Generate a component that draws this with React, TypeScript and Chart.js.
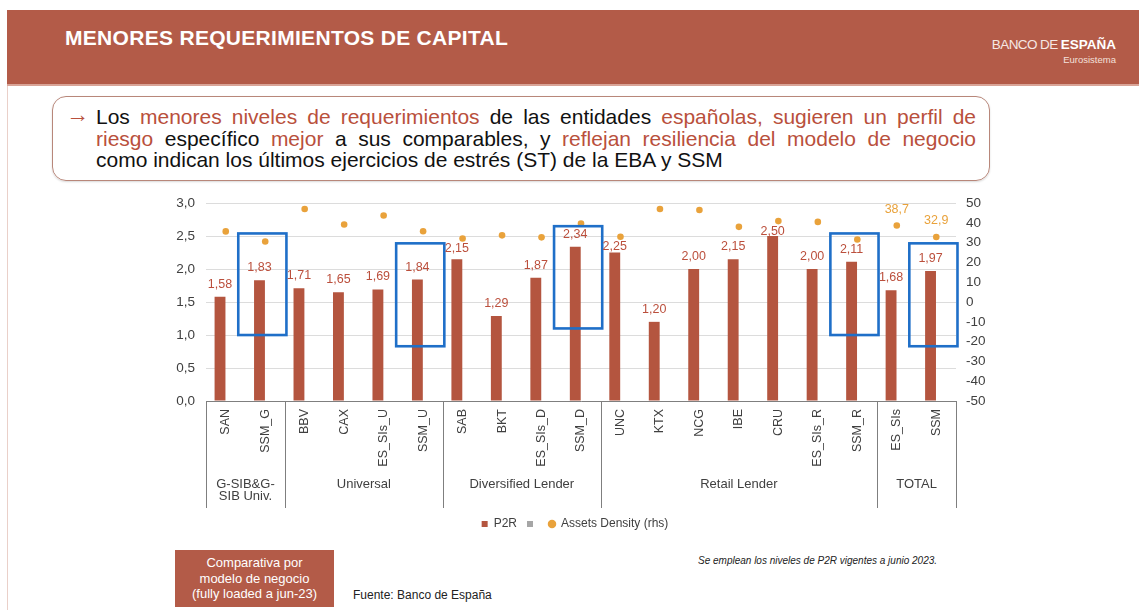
import React, { useEffect, useRef } from "react";
import { Chart, registerables } from "chart.js";

Chart.register(...registerables);

// ---------- data ----------
const categories = ["SAN", "SSM_G", "BBV", "CAX", "ES_SIs_U", "SSM_U", "SAB", "BKT", "ES_SIs_D", "SSM_D", "UNC", "KTX", "NCG", "IBE", "CRU", "ES_SIs_R", "SSM_R", "ES_SIs", "SSM"];
const p2r = [1.58, 1.83, 1.71, 1.65, 1.69, 1.84, 2.15, 1.29, 1.87, 2.34, 2.25, 1.2, 2.0, 2.15, 2.5, 2.0, 2.11, 1.68, 1.97];
const assetsDensity = [35.7, 30.6, 47.0, 39.2, 43.7, 35.8, 32.1, 33.7, 32.7, 39.7, 33.0, 47.0, 46.5, 38.0, 40.9, 40.5, 31.6, 38.7, 32.9];
const labeledDensity = ["ES_SIs", "SSM"];
const groupLabels = [["G-SIB&G-", "SIB Univ."], ["Universal"], ["Diversified Lender"], ["Retail Lender"], ["TOTAL"]];
const groupSizes = [2, 4, 4, 7, 2];
const highlighted = ["SSM_G", "SSM_U", "SSM_D", "SSM_R", "SSM"];
const highlightLow = [1.0, 0.83, 1.1, 1.0, 0.83];
const highlightHigh = [2.54, 2.39, 2.65, 2.54, 2.39];
const seriesNames = ["P2R", "", "Assets Density (rhs)"];

// ---------- styles ----------
const FONT = "'Liberation Sans', Arial, Helvetica, sans-serif";
const BRICK = "#b35b48";
const BAR = "#b4553f";
const LABEL_RED = "#bb4f3c";
const ORANGE = "#e9a23b";
const BLUE = "#1f6fc8";
const AXIS_TEXT = "#404040";

const fmt2 = (v: number) => v.toFixed(2).replace(".", ",");
const fmt1 = (v: number) => v.toFixed(1).replace(".", ",");

const overlayPlugin = {
  id: "overlay",
  afterDatasetsDraw(chart: any) {
    const ctx = chart.ctx;
    const xs = chart.scales.x;
    const ys = chart.scales.y;
    const bars = chart.getDatasetMeta(0).data;
    const pts = chart.getDatasetMeta(2).data;
    const cw = xs.getPixelForValue(1) - xs.getPixelForValue(0);
    ctx.save();
    // blue highlight boxes
    ctx.strokeStyle = BLUE;
    ctx.lineWidth = 2.6;
    highlighted.forEach((c, k) => {
      const i = categories.indexOf(c);
      const cx = (bars[i].x + xs.getPixelForValue(i)) / 2;
      const top = ys.getPixelForValue(highlightHigh[k]);
      const bot = ys.getPixelForValue(highlightLow[k]);
      ctx.strokeRect(cx - cw * 0.61, top, cw * 1.22, bot - top);
    });
    // bar value labels (nudged below a marker they would collide with)
    ctx.font = `12.5px ${FONT}`;
    ctx.textAlign = "center";
    ctx.textBaseline = "middle";
    ctx.fillStyle = LABEL_RED;
    bars.forEach((b: any, i: number) => {
      let ly = b.y - 12.5;
      const dy = ly - pts[i].y;
      if (dy > -10 && dy < 10) ly = pts[i].y + 10;
      ctx.fillText(fmt2(p2r[i]), b.x, ly);
    });
    // density labels
    ctx.fillStyle = ORANGE;
    labeledDensity.forEach((c) => {
      const i = categories.indexOf(c);
      const p = pts[i];
      ctx.fillText(fmt1(assetsDensity[i]), p.x, p.y - 16);
    });
    ctx.restore();
  },
  afterDraw(chart: any) {
    const ctx = chart.ctx;
    const xs = chart.scales.x;
    const area = chart.chartArea;
    const cw = xs.getPixelForValue(1) - xs.getPixelForValue(0);
    const bottom = area.bottom + 107;
    ctx.save();
    ctx.strokeStyle = "#7f7f7f";
    ctx.lineWidth = 1;
    ctx.fillStyle = AXIS_TEXT;
    ctx.font = `13px ${FONT}`;
    ctx.textAlign = "center";
    ctx.textBaseline = "middle";
    let start = 0;
    const edge = (px: number) => {
      ctx.beginPath();
      ctx.moveTo(Math.round(px) + 0.5, area.bottom);
      ctx.lineTo(Math.round(px) + 0.5, bottom);
      ctx.stroke();
    };
    edge(xs.getPixelForValue(0) - cw / 2);
    groupSizes.forEach((n, g) => {
      const left = xs.getPixelForValue(start) - cw / 2;
      const right = xs.getPixelForValue(start + n - 1) + cw / 2;
      edge(right);
      const lines = groupLabels[g];
      lines.forEach((t, j) => {
        ctx.fillText(t, (left + right) / 2, area.bottom + 83 + j * 12);
      });
      start += n;
    });
    ctx.restore();
  },
};

function ChartBox() {
  const ref = useRef<HTMLCanvasElement>(null);
  useEffect(() => {
    Chart.defaults.font.family = FONT;
    const chart = new Chart(ref.current as HTMLCanvasElement, {
      type: "bar",
      data: {
        labels: categories,
        datasets: [
          {
            type: "bar",
            label: seriesNames[0],
            data: p2r,
            backgroundColor: BAR,
            borderWidth: 0,
            yAxisID: "y",
            barPercentage: 0.95,
            categoryPercentage: 0.58,
            pointStyle: "rect",
          } as any,
          {
            type: "bar",
            label: seriesNames[1],
            data: categories.map(() => null),
            backgroundColor: "#a6a6a6",
            borderWidth: 0,
            yAxisID: "y",
            barPercentage: 0.95,
            categoryPercentage: 0.58,
            pointStyle: "rect",
          } as any,
          {
            type: "line",
            label: seriesNames[2],
            data: assetsDensity,
            yAxisID: "y1",
            showLine: false,
            pointStyle: "circle",
            pointRadius: 3.3,
            pointBorderWidth: 0,
            backgroundColor: ORANGE,
            borderColor: ORANGE,
          } as any,
        ],
      },
      options: {
        responsive: false,
        animation: false,
        layout: { padding: { top: 0, bottom: 0, left: 0, right: 0 } },
        plugins: {
          tooltip: { enabled: false },
          legend: {
            position: "bottom",
            labels: {
              usePointStyle: true,
              boxWidth: 6,
              boxHeight: 6,
              padding: 10,
              color: AXIS_TEXT,
              font: { size: 12, family: FONT },
            },
          },
        },
        scales: {
          x: {
            grid: { display: false, drawTicks: false },
            border: { display: true, color: "#7f7f7f", width: 1 },
            ticks: {
              autoSkip: false,
              maxRotation: 90,
              minRotation: 90,
              padding: 8,
              color: AXIS_TEXT,
              font: { size: 12.5, family: FONT },
            },
            afterFit: (s: any) => {
              s.height = 107;
            },
          },
          y: {
            position: "left",
            min: 0,
            max: 3,
            grid: { color: "#dcdcdc", drawTicks: false },
            border: { display: false },
            ticks: {
              autoSkip: false,
              stepSize: 0.5,
              padding: 11,
              color: AXIS_TEXT,
              font: { size: 13.5, family: FONT },
              callback: (v: any) => Number(v).toFixed(1).replace(".", ","),
            },
            afterFit: (s: any) => {
              s.width = 56;
            },
          },
          y1: {
            position: "right",
            min: -50,
            max: 50,
            grid: { display: false, drawTicks: false },
            border: { display: false },
            ticks: {
              autoSkip: false,
              stepSize: 10,
              padding: 10,
              color: AXIS_TEXT,
              font: { size: 13.5, family: FONT },
            },
            afterFit: (s: any) => {
              s.width = 44;
            },
          },
        },
      },
      plugins: [overlayPlugin],
    } as any);
    return () => chart.destroy();
  }, []);
  return <canvas ref={ref} width={850} height={356} style={{ position: "absolute", left: 150, top: 184 }} />;
}

const red = (t: string) => <span style={{ color: "#b9503c" }}>{t}</span>;

export default function App() {
  const lineStyle: React.CSSProperties = {
    whiteSpace: "nowrap",
    textAlign: "justify",
    textAlignLast: "justify",
    height: 21.5,
    lineHeight: "21.5px",
  };
  return (
    <div style={{ position: "fixed", left: 0, top: 0, width: 1139, height: 610, background: "#ffffff", overflow: "hidden", fontFamily: FONT }}>
      {/* header band */}
      <div style={{ position: "absolute", left: 7, top: 10, width: 1132, height: 74, background: BRICK }} />
      <div style={{ position: "absolute", left: 7, top: 84, width: 1132, height: 2, background: "#d9a497" }} />
      <div style={{ position: "absolute", left: 7, top: 86, width: 1, height: 524, background: "#ead0c9" }} />
      <div style={{ position: "absolute", left: 65, top: 26, color: "#ffffff", fontWeight: "bold", fontSize: 21, letterSpacing: 0.3, lineHeight: "24px", whiteSpace: "nowrap" }}>
        MENORES REQUERIMIENTOS DE CAPITAL
      </div>
      <div style={{ position: "absolute", right: 23, top: 37, color: "#f6e7e3", fontSize: 13.5, lineHeight: "16px", whiteSpace: "nowrap", textAlign: "right" }}>
        <span style={{ letterSpacing: -0.6 }}>BANCO DE </span>
        <span style={{ fontWeight: "bold", color: "#ffffff" }}>ESPAÑA</span>
      </div>
      <div style={{ position: "absolute", right: 23, top: 54, color: "#f3e0db", fontSize: 9.5, lineHeight: "12px", whiteSpace: "nowrap" }}>
        Eurosistema
      </div>

      {/* text box */}
      <div
        style={{
          position: "absolute",
          left: 52,
          top: 96,
          width: 936,
          height: 83,
          border: "1.5px solid #b8877a",
          borderRadius: 14,
          boxShadow: "0 1px 2px rgba(0,0,0,0.15)",
        }}
      />
      <div style={{ position: "absolute", left: 66, top: 104, color: "#b9503c", fontSize: 23, lineHeight: "21.5px" }}>→</div>
      <div style={{ position: "absolute", left: 96, top: 106, width: 880, fontSize: 21, color: "#111111" }}>
        <div style={lineStyle}>
          Los {red("menores niveles de requerimientos")} de las entidades {red("españolas, sugieren un perfil de")}
        </div>
        <div style={lineStyle}>
          {red("riesgo")} específico {red("mejor")} a sus comparables, y {red("reflejan resiliencia del modelo de negocio")}
        </div>
        <div style={{ whiteSpace: "nowrap", height: 21.5, lineHeight: "21.5px" }}>
          como indican los últimos ejercicios de estrés (ST) de la EBA y SSM
        </div>
      </div>

      <ChartBox />

      {/* bottom notes */}
      <div
        style={{
          position: "absolute",
          left: 175,
          top: 550,
          width: 159,
          height: 57,
          background: BRICK,
          color: "#ffffff",
          fontSize: 13,
          lineHeight: "15.5px",
          textAlign: "center",
          display: "flex",
          flexDirection: "column",
          justifyContent: "center",
        }}
      >
        <div>Comparativa por</div>
        <div>modelo de negocio</div>
        <div>(fully loaded a jun-23)</div>
      </div>
      <div style={{ position: "absolute", left: 353, top: 588, fontSize: 12, lineHeight: "15px", color: "#222222", whiteSpace: "nowrap" }}>
        Fuente: Banco de España
      </div>
      <div style={{ position: "absolute", left: 698, top: 554, fontSize: 10, lineHeight: "13px", fontStyle: "italic", color: "#222222", whiteSpace: "nowrap" }}>
        Se emplean los niveles de P2R vigentes a junio 2023.
      </div>
    </div>
  );
}
